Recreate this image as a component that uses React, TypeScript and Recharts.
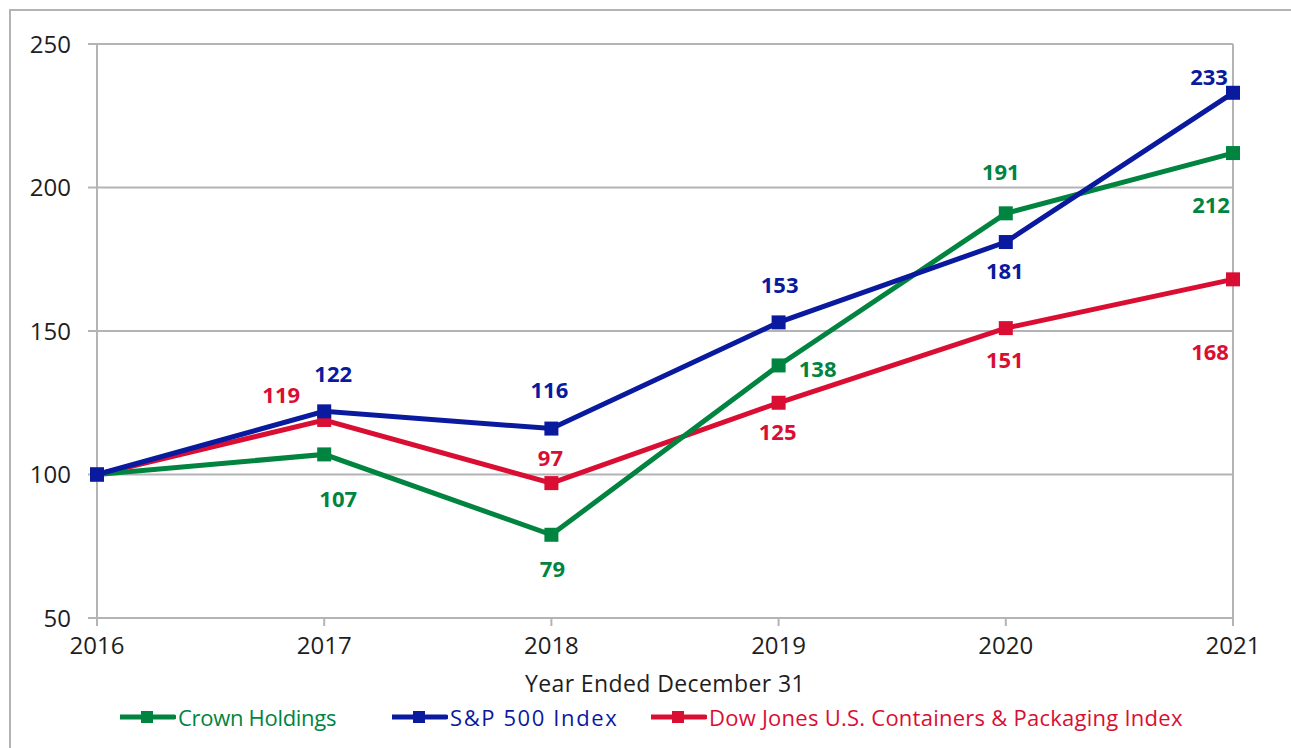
import { LineChart, Line, XAxis, YAxis, CartesianGrid, Legend, ReferenceLine } from 'recharts'

const years = ['2016', '2017', '2018', '2019', '2020', '2021']
const crownHoldings = [100, 107, 79, 138, 191, 212]
const sp500 = [100, 122, 116, 153, 181, 233]
const dowJonesContainers = [100, 119, 97, 125, 151, 168]
const yTicks = [50, 100, 150, 200, 250]

const GREEN = '#00843F'
const BLUE = '#0A1A9E'
const RED = '#DA0E33'
const GRID = '#B4B4B6'
const FONT = '"Open Sans", sans-serif'

const data = years.map((year, i) => ({
  year,
  crown: crownHoldings[i],
  sp: sp500[i],
  dj: dowJonesContainers[i],
}))

// where each value label sits relative to its point (text centre offset)
const labelOffsets: Record<string, [number, number][]> = {
  crown: [[0, 0], [14, 44], [1, 33], [39, 3], [-5, -42], [-22, 51]],
  sp: [[0, 0], [9, -38], [-2, -40], [1, -38], [-1, 28], [-24, -17]],
  dj: [[0, 0], [-43, -26], [-1, -26], [-1, 28], [-1, 31], [-23, 72]],
}

const makeLabel = (key: string, color: string) => (props: any) => {
  const { x, y, value, index } = props
  if (index === 0) return null
  const [dx, dy] = labelOffsets[key][index]
  return (
    <text
      x={x + dx}
      y={y + dy}
      textAnchor="middle"
      dominantBaseline="central"
      fill={color}
      fontFamily={FONT}
      fontWeight={700}
      fontSize={22}
    >
      {value}
    </text>
  )
}

const SquareDot = (color: string) => (props: any) => {
  const { cx, cy } = props
  return <rect x={cx - 7} y={cy - 7} width={14} height={14} fill={color} />
}

const legendItems = [
  { name: 'Crown Holdings', color: GREEN, left: 120, spacing: -0.3 },
  { name: 'S&P 500 Index', color: BLUE, left: 392, spacing: 1.6 },
  { name: 'Dow Jones U.S. Containers & Packaging Index', color: RED, left: 651, spacing: 0.25 },
]

const CustomLegend = () => (
  <div style={{ position: 'relative', height: 30, width: 1291 }}>
    {legendItems.map((item) => (
      <div
        key={item.name}
        style={{ position: 'absolute', left: item.left, top: 0, display: 'flex', alignItems: 'center', height: 30 }}
      >
        <svg width={56} height={16} style={{ display: 'block' }}>
          <line x1={0} y1={8} x2={54} y2={8} stroke={item.color} strokeWidth={5} strokeLinecap="round" />
          <rect x={21} y={2} width={12} height={12} fill={item.color} />
        </svg>
        <span
          style={{
            color: item.color,
            fontFamily: FONT,
            fontSize: 22,
            marginLeft: 2,
            whiteSpace: 'nowrap',
            letterSpacing: item.spacing,
          }}
        >
          {item.name}
        </span>
      </div>
    ))}
  </div>
)

export default function App() {
  return (
    <div style={{ position: 'fixed', left: 0, top: 0, width: 1291, height: 748, background: '#fff', overflow: 'hidden' }}>
      <div
        style={{
          position: 'absolute',
          left: 9,
          top: 9,
          width: 1300,
          height: 760,
          border: `2px solid ${GRID}`,
          boxSizing: 'border-box',
        }}
      />
      <LineChart width={1291} height={748} data={data} margin={{ top: 44, right: 58, left: 37, bottom: 100 }}>
        <CartesianGrid vertical={false} stroke={GRID} strokeWidth={2} />
        <XAxis
          dataKey="year"
          axisLine={{ stroke: GRID, strokeWidth: 2 }}
          tickLine={{ stroke: GRID, strokeWidth: 2 }}
          tickSize={8}
          tickMargin={11}
          height={30}
          tick={{ fontFamily: FONT, fontSize: 24, fill: '#1e1e1e' }}
          label={{
            value: 'Year Ended December 31',
            position: 'insideBottom',
            offset: -44,
            style: { fontFamily: FONT, fontSize: 23, fill: '#1e1e1e', letterSpacing: 0.4 },
          }}
        />
        <YAxis
          domain={[50, 250]}
          ticks={yTicks}
          width={60}
          axisLine={{ stroke: GRID, strokeWidth: 2 }}
          tickLine={{ stroke: GRID, strokeWidth: 2 }}
          tickSize={9}
          tickMargin={17}
          tick={{ fontFamily: FONT, fontSize: 24, fill: '#1e1e1e' }}
        />
        <ReferenceLine x="2021" stroke={GRID} strokeWidth={2} />
        <Legend
          verticalAlign="middle"
          layout="horizontal"
          content={<CustomLegend />}
          wrapperStyle={{ top: 702, left: 0, width: 1291 }}
        />
        <Line
          dataKey="dj"
          name="Dow Jones U.S. Containers & Packaging Index"
          stroke={RED}
          strokeWidth={5}
          dot={SquareDot(RED)}
          activeDot={false}
          label={makeLabel('dj', RED)}
          isAnimationActive={false}
        />
        <Line
          dataKey="crown"
          name="Crown Holdings"
          stroke={GREEN}
          strokeWidth={5}
          dot={SquareDot(GREEN)}
          activeDot={false}
          label={makeLabel('crown', GREEN)}
          isAnimationActive={false}
        />
        <Line
          dataKey="sp"
          name="S&P 500 Index"
          stroke={BLUE}
          strokeWidth={5}
          dot={SquareDot(BLUE)}
          activeDot={false}
          label={makeLabel('sp', BLUE)}
          isAnimationActive={false}
        />
      </LineChart>
    </div>
  )
}
